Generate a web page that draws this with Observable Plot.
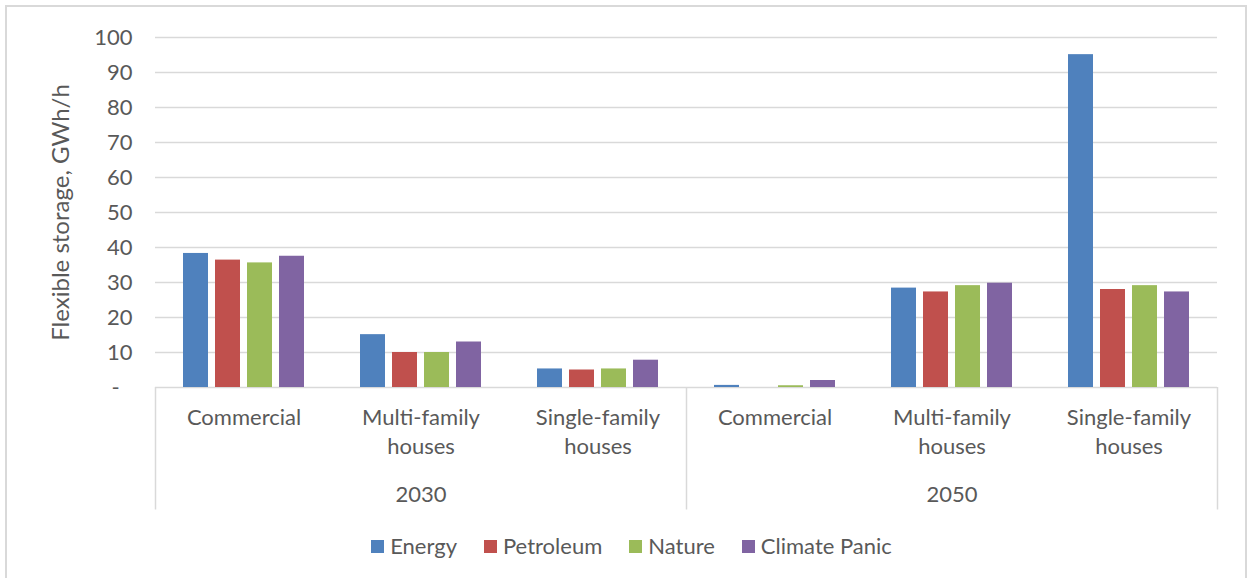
<!DOCTYPE html>
<html><head><meta charset="utf-8">
<script src="https://cdn.jsdelivr.net/npm/d3@7"></script>
<script src="https://cdn.jsdelivr.net/npm/@observablehq/plot@0.6"></script>
<style>
html,body{margin:0;padding:0;background:#fff;overflow:hidden;width:1254px;height:578px;}
#frame{position:absolute;left:5px;top:5px;width:1242px;height:640px;box-sizing:border-box;border:2px solid #d9d9d9;}
#chart{position:absolute;left:0;top:0;}
#legend{position:absolute;left:0;top:532px;width:1254px;box-sizing:border-box;padding-left:9px;display:flex;justify-content:center;gap:27px;font-family:Lato;font-size:22px;line-height:28px;color:#595959;}
.item{display:flex;align-items:center;}
.sw{width:13px;height:13px;margin-right:6px;}
</style></head><body>
<div id="frame"></div><div id="chart"></div><div id="legend"></div>
<script>
const years = ["2030", "2050"];
const buildingTypes = ["Commercial", "Multi-family houses", "Single-family houses"];
const typeLabels = ["Commercial", "Multi-family\nhouses", "Single-family\nhouses"];
const scenarios = ["Energy", "Petroleum", "Nature", "Climate Panic"];
const colors = ["#4F81BD", "#C0504D", "#9BBB59", "#8064A2"];
// values in order: 2030 Commercial, Multi, Single, 2050 Commercial, Multi, Single
const energy       = [38.3, 15.1, 5.3, 0.6, 28.4, 95.1];
const petroleum    = [36.4, 10.0, 5.0, 0.0, 27.3, 28.0];
const nature       = [35.6, 10.0, 5.3, 0.5, 29.1, 29.1];
const climatePanic = [37.5, 13.0, 7.8, 2.0, 29.8, 27.3];
const yTicks = [0, 10, 20, 30, 40, 50, 60, 70, 80, 90, 100];
const yLabel = "Flexible storage, GWh/h";
const boxDepth = -35; // category box extends below the baseline

const series = [energy, petroleum, nature, climatePanic];
const groups = [];
years.forEach((yr, yi) => buildingTypes.forEach((bt, bi) => {
  groups.push({key: yr + "|" + bt, year: yr, label: typeLabels[bi], idx: yi * buildingTypes.length + bi});
}));
const groupKeys = groups.map(g => g.key);
const rows = [];
groups.forEach(g => scenarios.forEach((s, si) => rows.push({key: g.key, scenario: s, value: series[si][g.idx]})));
const yearRows = years.map((yr, yi) => ({year: yr, key: groupKeys[yi * buildingTypes.length + 1]}));

const W = 1254, H = 520, mL = 155, mR = 37, mT = 37, mB = 133;
const facetW = (W - mL - mR) / groupKeys.length;
const grid = "#d9d9d9";
const FS = 22;

const chart = Plot.plot({
  width: W, height: H,
  marginLeft: mL, marginRight: mR, marginTop: mT, marginBottom: mB,
  style: {fontFamily: "Lato", fontSize: FS + "px", color: "#595959", background: "transparent", overflow: "visible"},
  fx: {domain: groupKeys, padding: 0, axis: null},
  x: {domain: scenarios, paddingInner: 0.22, paddingOuter: 0.875, axis: null},
  y: {domain: [0, 100], ticks: yTicks, tickFormat: d => d === 0 ? "-\u2007" : String(d), tickSize: 0, tickPadding: 23, label: null},
  color: {domain: scenarios, range: colors},
  marks: [
    Plot.ruleY(yTicks, {stroke: grid, strokeWidth: 1.5}),
    Plot.ruleX([groupKeys[0], groupKeys[3]], {x: null, fx: d => d, y1: () => 0, y2: () => boxDepth, dx: -facetW / 2, stroke: grid, strokeWidth: 1.5}),
    Plot.ruleX([groupKeys[5]], {x: null, fx: d => d, y1: () => 0, y2: () => boxDepth, dx: facetW / 2, stroke: grid, strokeWidth: 1.5}),
    Plot.barY(rows, {fx: "key", x: "scenario", y: "value", fill: "scenario"}),
    Plot.text(groups, {fx: "key", text: "label", frameAnchor: "bottom", lineAnchor: "top", dy: 17, lineHeight: 1.32, fontSize: FS}),
    Plot.text(yearRows, {fx: "key", text: "year", frameAnchor: "bottom", lineAnchor: "top", dy: 99, fontSize: FS}),
    Plot.text([{key: groupKeys[0], t: yLabel}], {fx: "key", text: "t", frameAnchor: "left", textAnchor: "middle", rotate: -90, dx: -94, fontSize: 24})
  ]
});
document.getElementById("chart").appendChild(chart);

const legend = document.getElementById("legend");
scenarios.forEach((s, i) => {
  const item = document.createElement("div");
  item.className = "item";
  const sw = document.createElement("span");
  sw.className = "sw";
  sw.style.background = colors[i];
  const t = document.createElement("span");
  t.textContent = s;
  item.appendChild(sw); item.appendChild(t);
  legend.appendChild(item);
});
</script>
</body></html>
